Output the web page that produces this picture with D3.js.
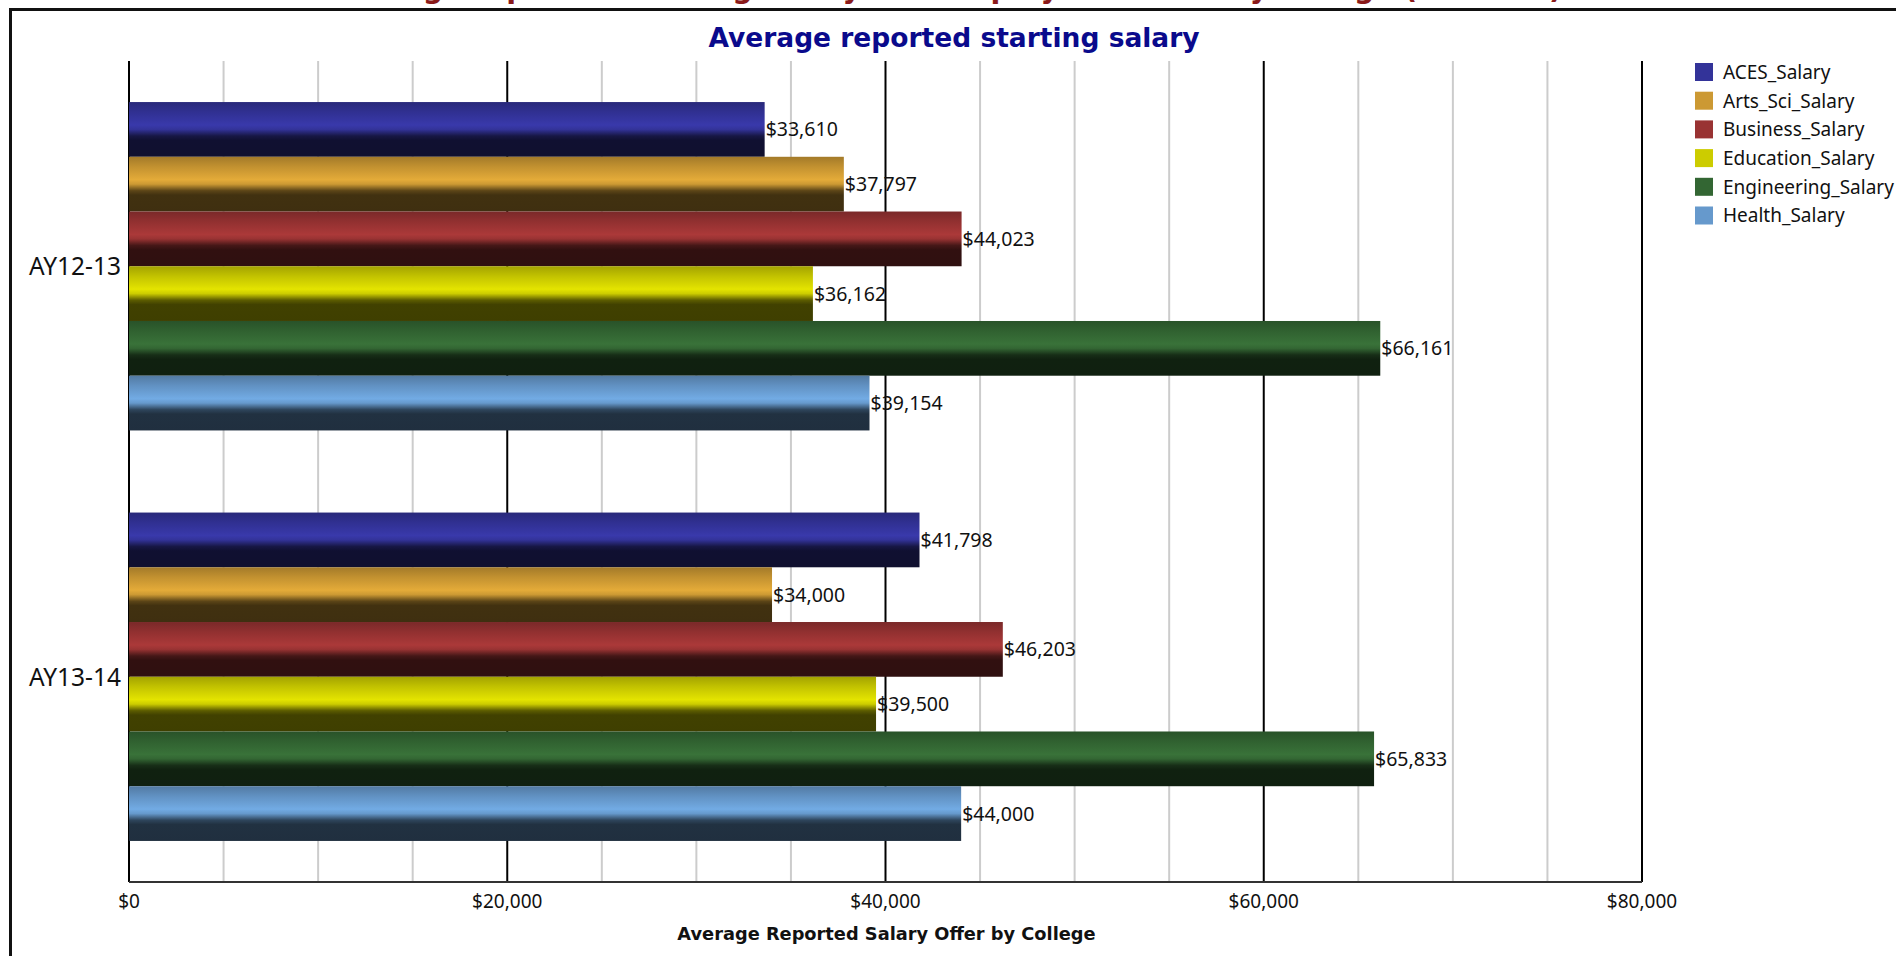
<!DOCTYPE html>
<html>
<head>
<meta charset="utf-8">
<script src="https://cdn.jsdelivr.net/npm/d3@7/dist/d3.min.js"></script>
<style>
  html, body { margin: 0; padding: 0; background: #fff; }
  svg { display: block; }
</style>
</head>
<body>
<svg id="chart"></svg>
<script>
// Data
const years = ['AY12-13', 'AY13-14'];
const colleges = ['ACES_Salary', 'Arts_Sci_Salary', 'Business_Salary', 'Education_Salary', 'Engineering_Salary', 'Health_Salary'];
const colors = ['#333399', '#cc9933', '#993333', '#cccc00', '#336633', '#6699cc'];
const salaries = {
    'AY12-13': [33610, 37797, 44023, 36162, 66161, 39154],
    'AY13-14': [41798, 34000, 46203, 39500, 65833, 44000]
};
const xTicks = [0, 20000, 40000, 60000, 80000];
const xMinor = d3.range(5000, 80000, 5000).filter(v => v % 20000 !== 0);

const width = 1896, height = 956;
const margin = { top: 61, right: 254, bottom: 74, left: 129 };
const innerWidth = 1513;
const innerHeight = height - margin.top - margin.bottom;

const sans = '"Noto Sans", "Open Sans", sans-serif';

const svg = d3.select('#chart')
    .attr('width', width)
    .attr('height', height)
    .style('font-family', sans);

// gradients for the glossy bars
const defs = svg.append('defs');
colors.forEach((c, i) => {
    const base = d3.rgb(c);
    const shade = k => d3.rgb(Math.min(255, base.r * k), Math.min(255, base.g * k), Math.min(255, base.b * k)).toString();
    const grad = defs.append('linearGradient')
        .attr('id', 'grad' + i)
        .attr('x1', 0).attr('y1', 0).attr('x2', 0).attr('y2', 1);
    [[0, 0.8], [0.18, 0.95], [0.42, 1.12], [0.5, 1.0], [0.62, 0.45], [0.7, 0.32], [1, 0.31]].forEach(([o, k]) => {
        grad.append('stop').attr('offset', o).attr('stop-color', shade(k));
    });
});

// header title of the page, cut off by the frame (only descenders show)
svg.append('text')
    .attr('x', 330)
    .attr('y', -2)
    .attr('textLength', 1232)
    .attr('lengthAdjust', 'spacingAndGlyphs')
    .attr('fill', '#8b1a1a')
    .attr('font-size', '30px')
    .attr('font-weight', 'bold')
    .attr('font-family', '"DejaVu Sans", sans-serif')
    .text('Average reported starting salary and employment rate by college (AY13-14)');

// frame
svg.append('rect')
    .attr('x', 10.5).attr('y', 9.5)
    .attr('width', width + 20).attr('height', height + 20)
    .attr('fill', 'none')
    .attr('stroke', '#111')
    .attr('stroke-width', 3);

// chart title
svg.append('text')
    .attr('x', 954)
    .attr('y', 47)
    .attr('text-anchor', 'middle')
    .attr('fill', '#0a0a8c')
    .attr('font-size', '26.5px')
    .attr('font-weight', 'bold')
    .attr('font-family', '"DejaVu Sans", sans-serif')
    .text('Average reported starting salary');

const g = svg.append('g')
    .attr('transform', `translate(${margin.left},${margin.top})`);

const x = d3.scaleLinear().domain([0, 80000]).range([0, innerWidth]);

const y0 = d3.scaleBand().domain(years).range([0, innerHeight]).paddingInner(0.2).paddingOuter(0.1);
const y1 = d3.scaleBand().domain(colleges).range([0, y0.bandwidth()]);

// gridlines
g.append('g').selectAll('line')
    .data(xMinor)
    .join('line')
    .attr('x1', d => x(d)).attr('x2', d => x(d))
    .attr('y1', 0).attr('y2', innerHeight)
    .attr('stroke', '#cccccc')
    .attr('stroke-width', 2);

g.append('g').selectAll('line')
    .data(xTicks)
    .join('line')
    .attr('x1', d => x(d)).attr('x2', d => x(d))
    .attr('y1', 0).attr('y2', innerHeight)
    .attr('stroke', '#000')
    .attr('stroke-width', 2);

// bars
const groups = g.append('g').selectAll('g')
    .data(years)
    .join('g')
    .attr('transform', d => `translate(0,${y0(d)})`);

groups.selectAll('rect')
    .data(yr => salaries[yr].map((v, i) => ({ college: colleges[i], value: v, i })))
    .join('rect')
    .attr('x', 0)
    .attr('y', d => y1(d.college))
    .attr('width', d => x(d.value))
    .attr('height', y1.bandwidth())
    .attr('fill', d => `url(#grad${d.i})`);

groups.selectAll('text')
    .data(yr => salaries[yr].map((v, i) => ({ college: colleges[i], value: v })))
    .join('text')
    .attr('x', d => x(d.value) + 1)
    .attr('y', d => y1(d.college) + y1.bandwidth() / 2)
    .attr('dy', '0.36em')
    .attr('fill', '#111')
    .attr('font-size', '19.5px')
    .text(d => '$' + d3.format(',')(d.value));

// bottom axis line
g.append('line')
    .attr('x1', 0).attr('x2', x(80000))
    .attr('y1', innerHeight).attr('y2', innerHeight)
    .attr('stroke', '#333')
    .attr('stroke-width', 2);

// x tick labels
g.selectAll('.xlab')
    .data(xTicks)
    .join('text')
    .attr('class', 'xlab')
    .attr('x', d => x(d))
    .attr('y', innerHeight + 26)
    .attr('text-anchor', 'middle')
    .attr('fill', '#111')
    .attr('font-size', '19px')
    .text(d => '$' + d3.format(',')(d));

// category labels
g.selectAll('.ylab')
    .data(years)
    .join('text')
    .attr('class', 'ylab')
    .attr('x', -8)
    .attr('y', d => y0(d) + y0.bandwidth() / 2)
    .attr('dy', '0.36em')
    .attr('text-anchor', 'end')
    .attr('fill', '#111')
    .attr('font-size', '24.5px')
    .text(d => d);

// axis title
g.append('text')
    .attr('x', x(40000) + 1)
    .attr('y', innerHeight + 58)
    .attr('text-anchor', 'middle')
    .attr('fill', '#111')
    .attr('font-size', '17.8px')
    .attr('font-weight', 'bold')
    .attr('font-family', '"DejaVu Sans", sans-serif')
    .text('Average Reported Salary Offer by College');

// legend
const legend = svg.append('g')
    .attr('transform', 'translate(1695,63)');

const items = legend.selectAll('g')
    .data(colleges)
    .join('g')
    .attr('transform', (d, i) => `translate(0,${i * 28.7})`);

items.append('rect')
    .attr('width', 18).attr('height', 18)
    .attr('fill', (d, i) => colors[i]);

items.append('text')
    .attr('x', 28)
    .attr('y', 9)
    .attr('dy', '0.36em')
    .attr('fill', '#111')
    .attr('font-size', '19px')
    .text(d => d);
</script>
</body>
</html>
